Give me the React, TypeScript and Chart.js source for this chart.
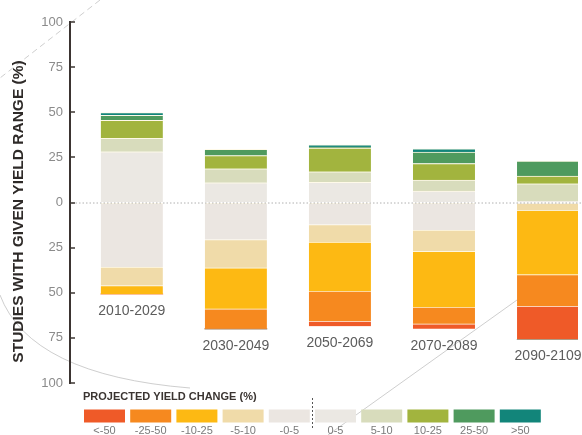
import { useEffect, useRef } from "react";
import { Chart, registerables } from "chart.js";

Chart.register(...registerables);

// ---- data ----
const periods = ["2010-2029", "2030-2049", "2050-2069", "2070-2089", "2090-2109"];
const rangeLabels = ["<-50", "-25-50", "-10-25", "-5-10", "-0-5", "0-5", "5-10", "10-25", "25-50", ">50"];
const rangeColors = [
  "#EF5A28", "#F6891F", "#FDB913", "#F0DBA9", "#EBE6E1",
  "#EBE8E3", "#D8DCBC", "#A2B43E", "#4F9A5E", "#12857A",
];

// share of studies (%) per yield-change range, per period (losses drawn below zero)
const lossOver50 = [0, 0, -2.8, -2.8, -18.5];
const loss25to50 = [0, -11.1, -16.6, -9.2, -17.5];
const loss10to25 = [-4.7, -22.7, -27.2, -31, -35.5];
const loss5to10 = [-10.2, -15.7, -9.7, -11.7, -3.9];
const loss0to5 = [-35.8, -20.5, -12.2, -15.3, -0.5];
const gain0to5 = [28.1, 10.9, 11.2, 6.3, 0.7];
const gain5to10 = [7.4, 7.8, 5.8, 6.1, 9.7];
const gain10to25 = [10, 7.3, 13.1, 9.2, 4.2];
const gain25to50 = [2.8, 3.4, 0.6, 6.3, 8.3];
const gainOver50 = [1.5, 0, 1.2, 1.8, 0];

const seriesByRange = [
  lossOver50, loss25to50, loss10to25, loss5to10, loss0to5,
  gain0to5, gain5to10, gain10to25, gain25to50, gainOver50,
];
// stacking order outward from zero
const stackOrder = [4, 3, 2, 1, 0, 5, 6, 7, 8, 9];

const yTitle = "STUDIES WITH GIVEN YIELD RANGE (%)";
const legendTitle = "PROJECTED YIELD CHANGE (%)";

const FONT = "'Liberation Sans', Arial, sans-serif";

const decorPlugin = {
  id: "decor",
  beforeDraw(chart: any) {
    const ctx = chart.ctx;
    ctx.save();
    ctx.fillStyle = "#ffffff";
    ctx.fillRect(0, 0, chart.width, chart.height);
    ctx.strokeStyle = "rgba(185,185,185,0.7)";
    ctx.lineWidth = 1;
    ctx.setLineDash([6, 4]);
    ctx.beginPath();
    ctx.moveTo(100, 0);
    ctx.lineTo(0, 78);
    ctx.stroke();
    ctx.setLineDash([]);
    ctx.beginPath();
    ctx.moveTo(0, 295);
    ctx.quadraticCurveTo(30, 375, 190, 388);
    ctx.stroke();
    ctx.beginPath();
    ctx.moveTo(328, 435);
    ctx.lineTo(517, 300);
    ctx.stroke();
    ctx.restore();
  },
  afterDatasetsDraw(chart: any) {
    const ctx = chart.ctx;
    const x = chart.scales.x;
    const y = chart.scales.y;
    const area = chart.chartArea;
    ctx.save();
    // dotted zero line
    const y0 = y.getPixelForValue(0);
    ctx.strokeStyle = "rgba(150,150,150,0.75)";
    ctx.lineWidth = 1;
    ctx.setLineDash([1.5, 2]);
    ctx.beginPath();
    ctx.moveTo(area.left + 2, y0 + 0.5);
    ctx.lineTo(chart.width, y0 + 0.5);
    ctx.stroke();
    ctx.setLineDash([]);
    // inward tick marks
    ctx.strokeStyle = "#3b3431";
    ctx.lineWidth = 1.5;
    y.ticks.forEach((t: any) => {
      const py = Math.round(y.getPixelForValue(t.value));
      ctx.beginPath();
      ctx.moveTo(area.left, py);
      ctx.lineTo(area.left + 5, py);
      ctx.stroke();
    });
    // period labels under each bar
    ctx.fillStyle = "#5c5c5c";
    ctx.font = `14px ${FONT}`;
    ctx.textAlign = "center";
    ctx.textBaseline = "middle";
    periods.forEach((p, i) => {
      let neg = 0;
      seriesByRange.forEach((s) => {
        if (s[i] < 0) neg += s[i];
      });
      ctx.fillText(p, x.getPixelForValue(i), y.getPixelForValue(neg) + 17);
    });
    ctx.restore();
  },
  afterDraw(chart: any) {
    const ctx = chart.ctx;
    ctx.save();
    // y title
    ctx.translate(18.5, 211.5);
    ctx.rotate(-Math.PI / 2);
    ctx.fillStyle = "#2e2a28";
    ctx.font = `bold 15.5px ${FONT}`;
    ctx.textAlign = "center";
    ctx.textBaseline = "middle";
    ctx.fillText(yTitle, 0, 0);
    ctx.restore();

    // legend
    ctx.save();
    ctx.fillStyle = "#3a3431";
    ctx.font = `bold 11px ${FONT}`;
    ctx.textAlign = "left";
    ctx.textBaseline = "middle";
    ctx.fillText(legendTitle, 83, 396.5);
    rangeLabels.forEach((lab, k) => {
      const sx = 84 + k * 46.2;
      ctx.fillStyle = rangeColors[k];
      ctx.fillRect(sx, 409.5, 41, 13);
      ctx.fillStyle = "#7a7a7a";
      ctx.font = `11px ${FONT}`;
      ctx.textAlign = "center";
      ctx.fillText(lab, sx + 20.5, 430.5);
    });
    ctx.strokeStyle = "#555";
    ctx.lineWidth = 1;
    ctx.setLineDash([2, 2]);
    ctx.beginPath();
    ctx.moveTo(312.5, 398);
    ctx.lineTo(312.5, 428);
    ctx.stroke();
    ctx.restore();
  },
};

export default function App() {
  const ref = useRef<HTMLCanvasElement | null>(null);

  useEffect(() => {
    if (!ref.current) return;
    const datasets = stackOrder.map((k) => ({
      label: rangeLabels[k],
      data: seriesByRange[k].map((v, i) => ({ x: i, y: v })),
      backgroundColor: rangeColors[k],
      borderColor: "rgba(255,250,232,0.95)",
      borderWidth: { top: 1, bottom: 0, left: 0, right: 0 },
      borderSkipped: false,
      barThickness: 62,
    }));
    const chart = new Chart(ref.current, {
      type: "bar",
      data: { datasets },
      options: {
        animation: false,
        responsive: true,
        maintainAspectRatio: false,
        layout: { padding: { top: 22, bottom: 52, right: 4, left: 0 } },
        plugins: { legend: { display: false }, tooltip: { enabled: false } },
        scales: {
          x: {
            type: "linear",
            min: -0.594,
            max: 4.288,
            offset: false,
            display: false,
            stacked: true,
            grid: { offset: false },
          },
          y: {
            min: -100,
            max: 100,
            stacked: true,
            ticks: {
              stepSize: 25,
              callback: (v: any) => String(Math.abs(Number(v))),
              color: "#8b8b8b",
              font: { family: FONT, size: 13 },
              padding: 7,
            },
            grid: { drawOnChartArea: false, drawTicks: false },
            border: { color: "#3b3431", width: 2 },
            afterFit: (s: any) => {
              s.width = 70;
            },
          },
        },
      },
      plugins: [decorPlugin],
    });
    return () => chart.destroy();
  }, []);

  return (
    <div style={{ position: "fixed", left: 0, top: 0, width: 582, height: 435 }}>
      <canvas ref={ref} />
    </div>
  );
}
